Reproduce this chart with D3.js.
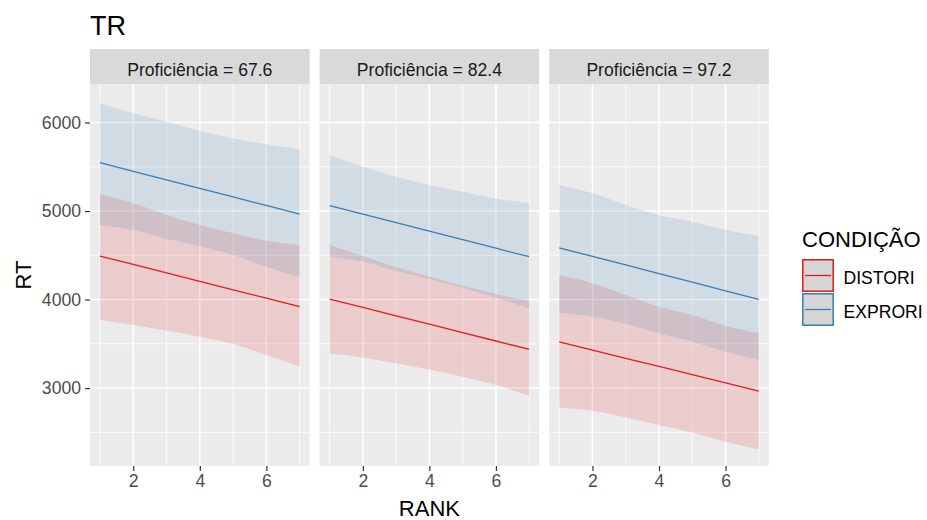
<!DOCTYPE html>
<html>
<head>
<meta charset="utf-8">
<script src="https://cdn.jsdelivr.net/npm/d3@7"></script>
<style>
  body { margin: 0; background: #fff; }
  text { font-family: "Liberation Sans", Arial, sans-serif; }
</style>
</head>
<body>
<svg id="chart" width="927" height="520"></svg>
<script>
// data
const rank = [1, 2, 3, 4, 5, 6, 7];
const panelLabels = ['Proficiência = 67.6', 'Proficiência = 82.4', 'Proficiência = 97.2'];
const conditions = ['DISTORI', 'EXPRORI'];
const xTicks = [2, 4, 6];
const yTicks = [3000, 4000, 5000, 6000];

const distoriFit = [
  [4492, 4397, 4301, 4206, 4110, 4015, 3919],
  [4006, 3911, 3816, 3722, 3627, 3532, 3437],
  [3523, 3430, 3337, 3245, 3152, 3059, 2966],
];
const distoriLower = [
  [3768, 3712, 3647, 3580, 3497, 3373, 3241],
  [3392, 3347, 3279, 3211, 3128, 3034, 2910],
  [2777, 2743, 2668, 2582, 2495, 2393, 2307],
];
const distoriUpper = [
  [5189, 5087, 4955, 4842, 4748, 4665, 4616],
  [4616, 4492, 4364, 4258, 4156, 4062, 3986],
  [4277, 4183, 4051, 3919, 3825, 3704, 3618],
];
const exproriFit = [
  [5546, 5449, 5353, 5256, 5159, 5063, 4966],
  [5060, 4964, 4868, 4772, 4676, 4580, 4484],
  [4585, 4488, 4391, 4294, 4196, 4099, 4002],
];
const exproriLower = [
  [4842, 4785, 4684, 4605, 4503, 4371, 4251],
  [4484, 4427, 4325, 4232, 4133, 4020, 3900],
  [3851, 3806, 3723, 3618, 3523, 3410, 3316],
];
const exproriUpper = [
  [6217, 6104, 6009, 5907, 5821, 5754, 5697],
  [5633, 5501, 5388, 5294, 5218, 5143, 5087],
  [5294, 5200, 5068, 4955, 4879, 4785, 4718],
];

const color = { DISTORI: '#E41A1C', EXPRORI: '#377EB8' };
const series = {
  DISTORI: { fit: distoriFit, lower: distoriLower, upper: distoriUpper },
  EXPRORI: { fit: exproriFit, lower: exproriLower, upper: exproriUpper },
};

// layout
const panelLeft = 90;
const panelW = 219.6;
const panelGap = 10;
const stripTop = 49;
const stripH = 35;
const panelTop = stripTop + stripH;
const panelBottom = 466;
const panelH = panelBottom - panelTop;

const svg = d3.select('#chart');

const x = d3.scaleLinear().domain([0.7, 7.3]).range([0, panelW]);
const y = d3.scaleLinear().domain([2120, 6435]).range([panelH, 0]);

// title
svg.append('text')
  .attr('x', panelLeft)
  .attr('y', 35)
  .style('font-size', '27px')
  .attr('fill', '#000')
  .text('TR');

panelLabels.forEach((label, p) => {
  const px = panelLeft + p * (panelW + panelGap);

  // strip
  svg.append('rect')
    .attr('x', px).attr('y', stripTop)
    .attr('width', panelW).attr('height', stripH)
    .attr('fill', '#d9d9d9');
  svg.append('text')
    .attr('x', px + panelW / 2)
    .attr('y', stripTop + 27)
    .attr('text-anchor', 'middle')
    .style('font-size', '17.6px')
    .attr('fill', '#1a1a1a')
    .text(label);

  const g = svg.append('g').attr('transform', `translate(${px}, ${panelTop})`);

  g.append('rect')
    .attr('width', panelW).attr('height', panelH)
    .attr('fill', '#ebebeb');

  // minor grid
  const minorX = [1, 3, 5, 7];
  const minorY = [2500, 3500, 4500, 5500];
  g.selectAll('.minor-x').data(minorX).join('line')
    .attr('x1', (d) => x(d)).attr('x2', (d) => x(d))
    .attr('y1', 0).attr('y2', panelH)
    .attr('stroke', '#fff').attr('stroke-width', 0.8);
  g.selectAll('.minor-y').data(minorY).join('line')
    .attr('y1', (d) => y(d)).attr('y2', (d) => y(d))
    .attr('x1', 0).attr('x2', panelW)
    .attr('stroke', '#fff').attr('stroke-width', 0.8);
  // major grid
  g.selectAll('.major-x').data(xTicks).join('line')
    .attr('x1', (d) => x(d)).attr('x2', (d) => x(d))
    .attr('y1', 0).attr('y2', panelH)
    .attr('stroke', '#fff').attr('stroke-width', 1.5);
  g.selectAll('.major-y').data(yTicks).join('line')
    .attr('y1', (d) => y(d)).attr('y2', (d) => y(d))
    .attr('x1', 0).attr('x2', panelW)
    .attr('stroke', '#fff').attr('stroke-width', 1.5);

  // ribbons
  conditions.forEach((c) => {
    const s = series[c];
    const pts = rank.map((r, i) => ({ r, lo: s.lower[p][i], hi: s.upper[p][i] }));
    g.append('path')
      .datum(pts)
      .attr('d', d3.area()
        .x((d) => x(d.r))
        .y0((d) => y(d.lo))
        .y1((d) => y(d.hi))
        .curve(d3.curveMonotoneX))
      .attr('fill', color[c])
      .attr('fill-opacity', 0.15);
  });

  // fitted lines
  conditions.forEach((c) => {
    const s = series[c];
    g.append('path')
      .datum(rank.map((r, i) => ({ r, v: s.fit[p][i] })))
      .attr('d', d3.line().x((d) => x(d.r)).y((d) => y(d.v)))
      .attr('fill', 'none')
      .attr('stroke', color[c])
      .attr('stroke-width', 1.3);
  });

  // x axis
  const xAxis = g.append('g')
    .attr('transform', `translate(0, ${panelH})`)
    .call(d3.axisBottom(x).tickValues(xTicks).tickSize(5).tickPadding(4).tickFormat(d3.format('d')));
  xAxis.select('.domain').remove();
  xAxis.selectAll('line').attr('stroke', '#333').attr('stroke-width', 1.2);
  xAxis.selectAll('text')
    .style('font-size', '17.6px')
    .attr('fill', '#4d4d4d')
    .style('font-family', '"Liberation Sans", Arial, sans-serif');

  if (p === 0) {
    const yAxis = g.append('g')
      .call(d3.axisLeft(y).tickValues(yTicks).tickSize(5).tickPadding(4).tickFormat(d3.format('d')));
    yAxis.select('.domain').remove();
    yAxis.selectAll('line').attr('stroke', '#333').attr('stroke-width', 1.2);
    yAxis.selectAll('text')
      .style('font-size', '17.6px')
      .attr('fill', '#4d4d4d')
      .style('font-family', '"Liberation Sans", Arial, sans-serif');
  }
});

// axis titles
const plotRight = panelLeft + 3 * panelW + 2 * panelGap;
svg.append('text')
  .attr('x', (panelLeft + plotRight) / 2)
  .attr('y', 516)
  .attr('text-anchor', 'middle')
  .style('font-size', '22px')
  .text('RANK');
svg.append('text')
  .attr('transform', `translate(31, ${(panelTop + panelBottom) / 2}) rotate(-90)`)
  .attr('text-anchor', 'middle')
  .style('font-size', '22px')
  .text('RT');

// legend
const legend = svg.append('g').attr('transform', 'translate(802, 259)');
legend.append('text')
  .attr('x', 0).attr('y', -12.5)
  .style('font-size', '22px')
  .text('CONDIÇÃO');
legend.selectAll('.legend-item')
  .data(conditions)
  .join('g')
  .classed('legend-item', true)
  .attr('transform', (d, i) => `translate(0, ${i * 34})`)
  .call((gg) => gg.append('rect')
    .attr('x', 0.8).attr('y', 0.8)
    .attr('width', 30.4).attr('height', 31.4)
    .attr('fill', '#d6d6d6')
    .attr('stroke', (d) => color[d])
    .attr('stroke-width', 1.5))
  .call((gg) => gg.append('line')
    .attr('x1', 3).attr('x2', 29)
    .attr('y1', 16.5).attr('y2', 16.5)
    .attr('stroke', (d) => color[d])
    .attr('stroke-width', 1.3))
  .call((gg) => gg.append('text')
    .attr('x', 41.5).attr('y', 24.5)
    .style('font-size', '17.6px')
    .text((d) => d));
</script>
</body>
</html>
